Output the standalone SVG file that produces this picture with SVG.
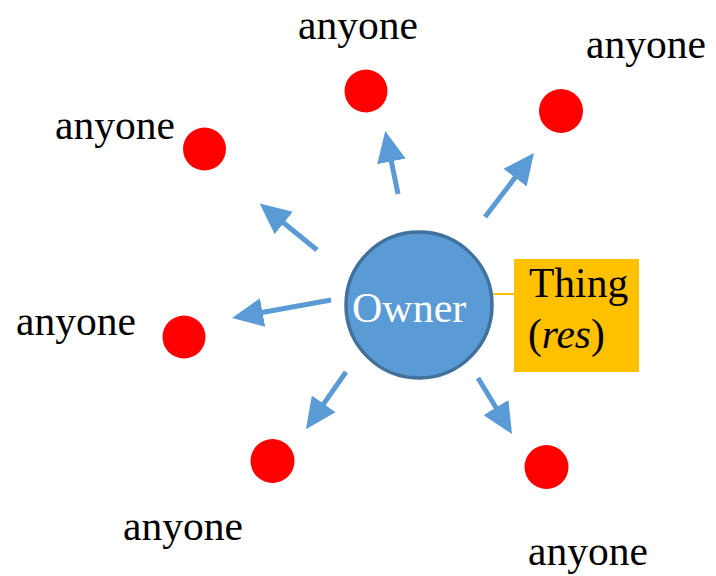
<svg xmlns="http://www.w3.org/2000/svg" width="716" height="576" viewBox="0 0 716 576">
<style>
.lbl{font-family:"Liberation Serif","Times New Roman",serif;font-size:41.5px;fill:#000}
.dot{fill:#FF0000}
.arr{stroke:#5B9BD5;stroke-width:5;fill:none}
</style>
<defs>
<marker id="ah" markerUnits="userSpaceOnUse" markerWidth="31" markerHeight="29" viewBox="0 0 31 29" refX="2" refY="14.5" orient="auto">
<path d="M0,0 L31,14.5 L0,29 z" fill="#5B9BD5"/>
</marker>
</defs>
<rect width="716" height="576" fill="#fff"/>
<g id="connectors">
<line class="arr" x1="398" y1="194" x2="391" y2="159.4" marker-end="url(#ah)"/>
<line class="arr" x1="485" y1="217" x2="516.3" y2="176" marker-end="url(#ah)"/>
<line class="arr" x1="317" y1="250" x2="282.2" y2="221.7" marker-end="url(#ah)"/>
<line class="arr" x1="331" y1="300" x2="260.6" y2="312.8" marker-end="url(#ah)"/>
<line class="arr" x1="346" y1="372" x2="322.6" y2="405.4" marker-end="url(#ah)"/>
<line class="arr" x1="478" y1="378" x2="497" y2="409.3" marker-end="url(#ah)"/>
<line x1="486" y1="294" x2="515" y2="294" stroke="#FFC000" stroke-width="2"/>
</g>
<g id="owner">
<circle cx="419" cy="305" r="73" fill="#5B9BD5" stroke="#41719C" stroke-width="3.5"/>
<text x="352" y="322" class="lbl" style="fill:#fff;font-size:42px">Owner</text>
</g>
<g id="thing">
<rect x="514" y="259" width="125" height="113" fill="#FFC000"/>
<text x="529" y="297" class="lbl" style="font-size:41.5px">Thing</text>
<text x="528" y="348" class="lbl" style="font-size:41.5px">(<tspan font-style="italic">res</tspan>)</text>
</g>
<g id="n-top"><circle class="dot" cx="366" cy="91" r="21.5"/><text class="lbl" x="298" y="39">anyone</text></g>
<g id="n-topright"><circle class="dot" cx="561" cy="111" r="22"/><text class="lbl" x="586" y="58">anyone</text></g>
<g id="n-upleft"><circle class="dot" cx="204.5" cy="149" r="21.5"/><text class="lbl" x="55" y="139">anyone</text></g>
<g id="n-left"><circle class="dot" cx="184" cy="337" r="21.5"/><text class="lbl" x="16" y="335">anyone</text></g>
<g id="n-botleft"><circle class="dot" cx="272.5" cy="461" r="22"/><text class="lbl" x="123" y="540">anyone</text></g>
<g id="n-botright"><circle class="dot" cx="546.5" cy="467" r="22"/><text class="lbl" x="528" y="565">anyone</text></g>
</svg>
